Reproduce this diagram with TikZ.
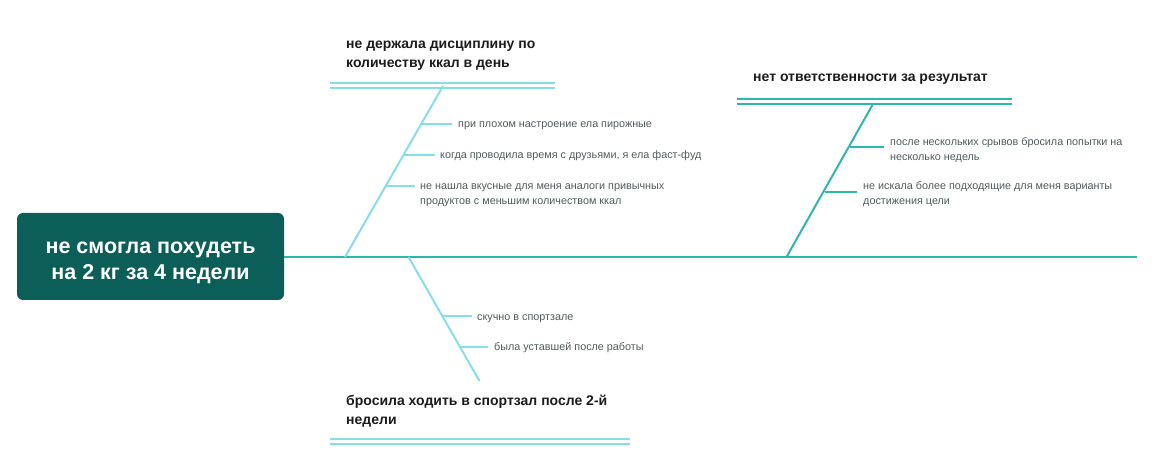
\documentclass[tikz,border=0pt]{standalone}
\usepackage{fontspec}
\setmainfont{Liberation Sans}
\definecolor{boxc}{HTML}{0B5F58}
\definecolor{tealc}{HTML}{2CB8AB}
\definecolor{lightc}{HTML}{86DFE5}
\definecolor{subc}{HTML}{4F5B5B}
\definecolor{headc}{HTML}{1C1C1C}
\begin{document}
\begin{tikzpicture}[x=1pt,y=-1pt,
  lightln/.style={draw=lightc, line width=2pt},
  tealln/.style={draw=tealc, line width=2pt},
  sublight/.style={draw=lightc, line width=1.4pt},
  subteal/.style={draw=tealc, line width=1.4pt},
  subtxt/.style={anchor=base west, inner sep=0pt, font=\fontsize{10.8}{15}\selectfont, text=subc, align=left},
  headtxt/.style={anchor=base west, inner sep=0pt, font=\bfseries\fontsize{14}{19}\selectfont, text=headc, align=left}]
\useasboundingbox (0,0) rectangle (1171,473);
% root
\node[fill=boxc, rounded corners=6pt, minimum width=267pt, minimum height=87pt, inner sep=0pt] (root) at (150.5,256.5) {};
\node[text=white, font=\bfseries\fontsize{21.5}{27}\selectfont, align=center, inner sep=0pt, anchor=base] (roottxt) at (150.5,280)
      {не смогла похудеть\\ на 2 кг за 4 недели};
\coordinate (spineend) at (1137,257);
\draw[tealln] (root.east |- spineend) -- (spineend);

% branch 1
\coordinate (b1s) at (345,257);
\coordinate (b1e) at (443,86);
\draw[lightln] (b1s) -- (b1e);
\draw[lightln] (330,83) -- (555,83);
\draw[lightln] (330,88.5) -- (555,88.5);
\node[headtxt] (h1) at (346,68) {не держала дисциплину по\\количеству ккал в день};
\node[subtxt] (s11) at (458,128) {при плохом настроение ела пирожные};
\coordinate (c11) at (421.5,124);
\draw[sublight] (c11) -- ([xshift=-6pt]s11.west |- c11);
\node[subtxt] (s12) at (440,159) {когда проводила время с друзьями, я ела фаст-фуд};
\coordinate (c12) at (403.5,155);
\draw[sublight] (c12) -- ([xshift=-5pt]s12.west |- c12);
\node[subtxt] (s13) at (420,205) {не нашла вкусные для меня аналоги привычных\\продуктов с меньшим количеством ккал};
\coordinate (c13) at (385.5,186);
\draw[sublight] (c13) -- ([xshift=-5pt]s13.west |- c13);

% branch 2
\coordinate (b2s) at (786.5,257);
\coordinate (b2e) at (873,104);
\draw[tealln] (b2s) -- (b2e);
\draw[tealln] (737,99) -- (1012,99);
\draw[tealln] (737,104) -- (1012,104);
\node[headtxt] (h2) at (753,82) {нет ответственности за результат};
\node[subtxt] (s21) at (890,161) {после нескольких срывов бросила попытки на\\несколько недель};
\coordinate (c21) at (850,147);
\draw[subteal] (c21) -- ([xshift=-6pt]s21.west |- c21);
\node[subtxt] (s22) at (863,205) {не искала более подходящие для меня варианты\\достижения цели};
\coordinate (c22) at (824.5,192);
\draw[subteal] (c22) -- ([xshift=-6pt]s22.west |- c22);

% branch 3
\coordinate (b3s) at (408.5,257);
\coordinate (b3e) at (479.5,381);
\draw[lightln] (b3s) -- (b3e);
\draw[lightln] (330,439) -- (630,439);
\draw[lightln] (330,444) -- (630,444);
\node[headtxt] (h3) at (346,424) {бросила ходить в спортзал после 2-й\\недели};
\node[subtxt] (s31) at (477,320) {скучно в спортзале};
\coordinate (c31) at (442.5,316);
\draw[sublight] (c31) -- ([xshift=-5pt]s31.west |- c31);
\node[subtxt] (s32) at (494,351) {была уставшей после работы};
\coordinate (c32) at (460,347);
\draw[sublight] (c32) -- ([xshift=-6pt]s32.west |- c32);
\end{tikzpicture}
\end{document}
